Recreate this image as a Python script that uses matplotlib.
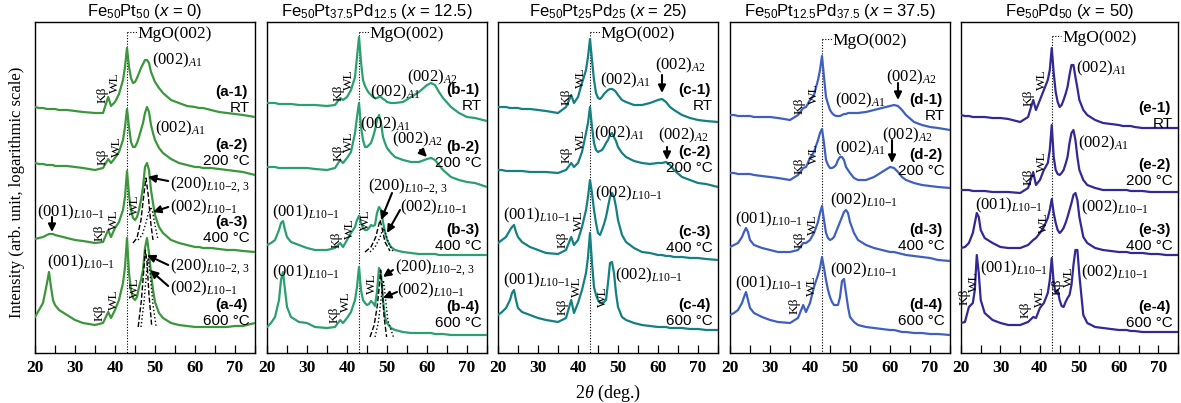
import matplotlib
matplotlib.use("Agg")
import matplotlib.pyplot as plt
from matplotlib.ticker import MultipleLocator

plt.rcParams["font.family"] = ["Liberation Serif", "DejaVu Serif"]
plt.rcParams["mathtext.fontset"] = "custom"
plt.rcParams["mathtext.rm"] = "Liberation Serif"
plt.rcParams["mathtext.it"] = "Liberation Serif:italic"
plt.rcParams["mathtext.sf"] = "Liberation Sans"
plt.rcParams["mathtext.cal"] = "Liberation Sans:italic"

# 2theta grid (deg.) shared by all scans
two_theta = [20, 21, 22, 23, 23.5, 24, 24.5, 25, 26, 28,
             30, 32, 35, 37, 38.3, 39, 40, 41, 42, 42.5,
             43, 43.5, 44, 44.5, 45, 45.5, 46, 46.5, 47, 47.5,
             48, 48.5, 49, 49.5, 50, 51, 52, 54, 56, 58,
             60, 61, 62, 63, 64, 66, 68, 70, 72, 75]

# offset log-intensity, read as vertical position (image row, top = 22, bottom = 353)
# x = 0
a1 = [107, 108, 108, 109, 109, 109, 109, 109, 110, 110,
      111, 112, 113, 113, 97, 106, 102, 94, 80, 67,
      48, 67, 78, 83, 82, 78, 73, 68, 64, 60,
      60, 63, 72, 77, 82, 88, 93, 100, 103, 106,
      107, 108, 108, 109, 110, 112, 113, 114, 115, 117]
a2 = [163, 164, 164, 165, 165, 165, 165, 166, 166, 166,
      167, 168, 170, 168, 159, 163, 158, 152, 140, 127,
      109, 127, 142, 147, 147, 143, 137, 130, 123, 113,
      107, 112, 125, 133, 140, 148, 153, 159, 163, 165,
      167, 167, 168, 168, 168, 169, 170, 171, 172, 175]
a3 = [239, 238, 237, 235, 234, 234, 234, 235, 236, 238,
      240, 241, 243, 242, 230, 237, 228, 222, 210, 197,
      171, 195, 210, 218, 220, 217, 210, 200, 187, 167,
      163, 170, 190, 203, 215, 227, 233, 240, 243, 245,
      247, 247, 248, 248, 248, 249, 250, 250, 251, 252]
a4 = [317, 310, 303, 283, 272, 287, 300, 305, 310, 315,
      320, 323, 325, 323, 312, 318, 310, 300, 283, 267,
      238, 273, 290, 298, 300, 297, 287, 280, 270, 248,
      238, 253, 273, 290, 302, 313, 318, 323, 325, 326,
      327, 327, 327, 327, 327, 327, 327, 326, 326, 323]
# x = 12.5
b1 = [103, 103, 103, 104, 104, 104, 104, 104, 104, 105,
      105, 105, 106, 105, 98, 100, 97, 90, 77, 57,
      37, 62, 80, 86, 90, 93, 95, 97, 98, 98,
      97, 97, 99, 100, 102, 103, 103, 102, 97, 92,
      85, 83, 85, 92, 98, 107, 113, 117, 118, 121]
b2 = [167, 167, 167, 168, 168, 168, 168, 168, 168, 168,
      168, 169, 170, 168, 160, 163, 158, 152, 133, 117,
      103, 127, 140, 147, 147, 145, 143, 137, 130, 120,
      115, 123, 137, 143, 148, 153, 157, 160, 162, 162,
      159, 158, 160, 165, 170, 177, 180, 182, 183, 187]
b3 = [245, 243, 240, 230, 223, 221, 230, 237, 242, 245,
      248, 250, 250, 248, 243, 247, 240, 233, 227, 220,
      216, 223, 228, 230, 230, 228, 225, 226, 225, 213,
      207, 210, 222, 232, 240, 247, 250, 252, 253, 254,
      254, 254, 254, 255, 255, 255, 255, 255, 255, 255]
b4 = [327, 323, 317, 300, 280, 272, 290, 307, 317, 322,
      323, 327, 328, 327, 320, 323, 318, 312, 300, 287,
      267, 290, 300, 303, 305, 304, 301, 303, 306, 292,
      268, 273, 300, 317, 323, 328, 330, 332, 333, 333,
      333, 333, 334, 334, 334, 335, 335, 335, 335, 335]
# x = 25
c1 = [107, 107, 107, 108, 108, 108, 108, 108, 109, 109,
      110, 111, 113, 107, 95, 103, 97, 83, 70, 57,
      39, 60, 80, 93, 98, 99, 97, 94, 92, 90,
      89, 89, 90, 92, 95, 100, 102, 105, 105, 103,
      100, 99, 102, 107, 110, 115, 118, 120, 121, 122]
c2 = [170, 170, 171, 171, 171, 171, 171, 171, 171, 172,
      172, 172, 173, 170, 163, 167, 163, 152, 133, 123,
      107, 127, 143, 150, 152, 151, 150, 147, 143, 140,
      135, 133, 137, 141, 147, 153, 157, 161, 163, 164,
      163, 163, 162, 165, 170, 177, 180, 183, 184, 187]
c3 = [243, 240, 237, 230, 227, 225, 232, 237, 242, 247,
      250, 253, 254, 250, 237, 245, 240, 227, 210, 197,
      180, 193, 210, 223, 233, 235, 230, 224, 217, 207,
      197, 193, 197, 207, 220, 235, 242, 248, 252, 253,
      255, 255, 256, 256, 257, 257, 258, 258, 259, 260]
c4 = [315, 312, 308, 300, 293, 290, 300, 308, 312, 315,
      318, 320, 322, 318, 300, 313, 303, 290, 273, 257,
      233, 263, 287, 295, 300, 303, 303, 302, 300, 283,
      263, 262, 273, 293, 307, 317, 320, 323, 325, 326,
      327, 327, 327, 328, 328, 328, 329, 329, 330, 330]
# x = 37.5
d1 = [115, 115, 116, 116, 116, 116, 116, 116, 117, 117,
      117, 118, 120, 115, 108, 107, 100, 95, 80, 70,
      56, 77, 97, 104, 110, 113, 115, 116, 116, 116,
      115, 114, 114, 113, 113, 113, 113, 112, 110, 108,
      106, 105, 106, 110, 115, 122, 125, 127, 128, 130]
d2 = [173, 173, 174, 174, 174, 174, 174, 174, 175, 176,
      177, 178, 180, 175, 168, 167, 158, 152, 140, 133,
      129, 143, 160, 165, 168, 168, 167, 165, 160, 157,
      157, 160, 167, 170, 173, 178, 180, 180, 177, 172,
      167, 168, 172, 177, 180, 183, 185, 186, 187, 188]
d3 = [247, 245, 243, 237, 232, 228, 232, 240, 245, 248,
      250, 252, 252, 250, 243, 243, 240, 233, 222, 213,
      206, 220, 233, 238, 240, 239, 237, 232, 227, 222,
      217, 212, 210, 213, 222, 233, 240, 245, 248, 250,
      252, 252, 253, 254, 255, 256, 257, 258, 260, 261]
d4 = [315, 313, 310, 303, 297, 292, 300, 308, 313, 317,
      320, 322, 323, 318, 305, 312, 303, 287, 275, 268,
      257, 268, 280, 290, 297, 302, 305, 305, 305, 297,
      281, 279, 293, 307, 317, 322, 325, 327, 328, 329,
      330, 330, 331, 332, 332, 333, 333, 334, 334, 335]
# x = 50
e1 = [115, 116, 116, 117, 117, 117, 117, 117, 117, 118,
      118, 119, 122, 117, 100, 110, 100, 90, 80, 70,
      48, 73, 92, 102, 107, 105, 100, 94, 87, 75,
      65, 65, 77, 88, 100, 110, 115, 120, 123, 124,
      125, 126, 126, 126, 127, 128, 128, 128, 128, 128]
e2 = [190, 190, 190, 191, 191, 191, 191, 191, 191, 192,
      192, 192, 193, 188, 172, 185, 180, 170, 163, 150,
      125, 157, 170, 174, 175, 173, 170, 164, 157, 143,
      133, 130, 140, 157, 170, 180, 185, 188, 190, 190,
      190, 190, 190, 191, 191, 191, 192, 192, 192, 192]
e3 = [248, 247, 243, 233, 223, 213, 217, 230, 238, 243,
      247, 248, 248, 245, 240, 238, 233, 227, 218, 210,
      199, 213, 223, 230, 233, 231, 228, 223, 217, 210,
      203, 195, 193, 200, 217, 237, 243, 248, 250, 251,
      252, 252, 252, 253, 253, 253, 254, 254, 255, 255]
e4 = [323, 322, 307, 303, 290, 255, 273, 300, 313, 320,
      323, 325, 325, 322, 317, 318, 308, 303, 293, 280,
      258, 283, 293, 290, 300, 306, 307, 302, 298, 295,
      285, 265, 250, 250, 275, 315, 323, 327, 328, 329,
      330, 330, 330, 331, 331, 332, 332, 332, 332, 332]

# fitted component peaks (dashed = (200)L10-2,3, dotted = (002)L10-1)
a3_f200_x = [44.5, 45.5, 46.5, 47.2, 47.75, 48.3, 49.0, 49.5]
a3_f200_y = [243, 238, 220, 195, 178, 195, 225, 240]
a3_f002_x = [45.75, 46.8, 47.8, 48.4, 48.9, 49.4, 50.0, 50.75]
a3_f002_y = [240, 235, 222, 212, 207, 212, 225, 240]
a4_f200_x = [45.8, 46.6, 47.2, 47.6, 48.0, 48.5, 49.2]
a4_f200_y = [327, 300, 270, 250, 262, 295, 327]
a4_f002_x = [46.5, 47.3, 47.9, 48.3, 48.8, 49.5, 50.3]
a4_f002_y = [327, 300, 272, 258, 275, 305, 327]
b3_f200_x = [44.5, 46.0, 47.2, 47.8, 48.25, 48.7, 49.5, 50.75]
b3_f200_y = [252, 247, 237, 227, 220, 227, 242, 251]
b3_f002_x = [45.75, 47.0, 48.2, 48.7, 49.1, 49.6, 50.4, 51.6]
b3_f002_y = [252, 247, 238, 232, 228, 233, 243, 252]
b4_f200_x = [45.75, 46.8, 47.6, 48.1, 48.4, 48.8, 49.3, 49.9]
b4_f200_y = [337, 325, 305, 285, 270, 290, 318, 337]
b4_f002_x = [47.0, 47.8, 48.5, 48.9, 49.1, 49.4, 50.2, 51.6]
b4_f002_y = [337, 323, 300, 285, 280, 290, 320, 337]

titles = [r"Fe$_{\mathsf{50}}$Pt$_{\mathsf{50}}$ ($\mathcal{x}$ = 0)",
          r"Fe$_{\mathsf{50}}$Pt$_{\mathsf{37.5}}$Pd$_{\mathsf{12.5}}$ ($\mathcal{x}$ = 12.5)",
          r"Fe$_{\mathsf{50}}$Pt$_{\mathsf{25}}$Pd$_{\mathsf{25}}$ ($\mathcal{x}$ = 25)",
          r"Fe$_{\mathsf{50}}$Pt$_{\mathsf{12.5}}$Pd$_{\mathsf{37.5}}$ ($\mathcal{x}$ = 37.5)",
          r"Fe$_{\mathsf{50}}$Pd$_{\mathsf{50}}$ ($\mathcal{x}$ = 50)"]
letters = ["a", "b", "c", "d", "e"]
conditions = ["RT", "200 °C", "400 °C", "600 °C"]
colors = ["#3c963c", "#2aa06e", "#148080", "#4060c0", "#322896"]
scans = [[a1, a2, a3, a4], [b1, b2, b3, b4], [c1, c2, c3, c4],
         [d1, d2, d3, d4], [e1, e2, e3, e4]]

A1 = r"(002)$_{\mathit{A1}}$"
A2 = r"(002)$_{\mathit{A2}}$"
L001 = r"(001)$_{\mathit{L10{-}1}}$"
L002 = r"(002)$_{\mathit{L10{-}1}}$"
L200 = r"(200)$_{\mathit{L10{-}2,\,3}}$"

W, H = 1181, 403
lefts = [35, 267, 498, 730, 961]
widths = [220, 220, 220, 220, 217]
mgo_rows = [32, 32, 32, 39, 36]
tag_rows = [[92, 145, 222, 305], [90, 147, 230, 307], [90, 152, 232, 305],
            [100, 155, 230, 305], [108, 165, 230, 307]]

fig = plt.figure(figsize=(W / 100, H / 100), dpi=100)
axes = []
for i in range(5):
    ax = fig.add_axes([lefts[i] / W, 50 / H, widths[i] / W, 331 / H])
    axes.append(ax)
    for s in scans[i]:
        ax.plot(two_theta, s, color=colors[i], lw=1.6, zorder=3)
    r = mgo_rows[i]
    ax.plot([43, 43], [r, 353], ls=(0, (1, 1.5)), color="k", lw=0.8, zorder=2)
    ax.plot([43, 45.4], [r, r], ls=(0, (1, 1.5)), color="k", lw=0.8, zorder=2)
    ax.text(45.7, r + 2, "MgO(002)", fontsize=12.5, va="center", ha="left")
    for k in range(4):
        ax.text(73.2, tag_rows[i][k], "(%s-%d)" % (letters[i], k + 1),
                family="Liberation Sans", weight="bold", fontsize=11,
                ha="right", va="center")
        ax.text(73.6, tag_rows[i][k] + 16, conditions[k],
                family="Liberation Sans", fontsize=11, ha="right", va="center")
    ax.set_xlim(20, 75)
    ax.set_ylim(353, 22)
    ax.set_yticks([])
    ax.xaxis.set_major_locator(MultipleLocator(10))
    ax.xaxis.set_minor_locator(MultipleLocator(5))
    ax.tick_params(axis="x", which="both", direction="in", length=6,
                   width=0.9, labelsize=12.5, pad=5, top=False)
    for t in ax.get_xticklabels():
        t.set_fontweight("bold")
    for sp in ax.spines.values():
        sp.set_linewidth(1.0)
    ax.set_title(titles[i], family="Liberation Sans", fontsize=12, pad=4)


def lab(ax, x, y, s):
    ax.text(x, y, s, fontsize=12, ha="left", va="center", zorder=5)


def small(ax, x, y, s):
    ax.text(x, y, s, fontsize=9.5, rotation=90, ha="center", va="center", zorder=5)


def arrow(ax, x0, y0, x1, y1):
    ax.annotate("", xy=(x1, y1), xytext=(x0, y0),
                arrowprops=dict(arrowstyle="-|>,head_length=0.45,head_width=0.22",
                                color="k", lw=1.5, shrinkA=0, shrinkB=0), zorder=6)


def fit(ax, x, y, ls):
    ax.plot(x, y, color="k", ls=ls, lw=1.0, zorder=4)


# x = 0
ax = axes[0]
lab(ax, 49.25, 60, A1)
lab(ax, 50, 128, A1)
lab(ax, 20.5, 212, L001)
lab(ax, 53.75, 185, L200)
lab(ax, 53.75, 207, L002)
lab(ax, 23, 262, L001)
lab(ax, 53.75, 267, L200)
lab(ax, 53.75, 288, L002)
for x, y, s in [(37, 95, "Kβ"), (40, 83, "WL"), (37, 157, "Kβ"), (40.5, 147, "WL"),
                (36.25, 233, "Kβ"), (39.75, 220, "WL"), (45, 205, "WL"),
                (36.25, 313, "Kβ"), (39.75, 300, "WL"), (45, 288, "WL")]:
    small(ax, x, y, s)
arrow(ax, 24.25, 217, 24.25, 232)
arrow(ax, 53.3, 181, 48.2, 177)
arrow(ax, 53.3, 207, 49.5, 212)
arrow(ax, 53.3, 265, 48.0, 255)
arrow(ax, 53.3, 286, 48.75, 270)
fit(ax, a3_f200_x, a3_f200_y, "--")
fit(ax, a3_f002_x, a3_f002_y, ":")
fit(ax, a4_f200_x, a4_f200_y, "--")
fit(ax, a4_f002_x, a4_f002_y, ":")

# x = 12.5
ax = axes[1]
lab(ax, 45.75, 92, A1)
lab(ax, 55, 77, A2)
lab(ax, 43.25, 124, A1)
lab(ax, 51.25, 139, A2)
lab(ax, 21.25, 212, L001)
lab(ax, 45.25, 187, L200)
lab(ax, 53.25, 207, L002)
lab(ax, 21.25, 272, L001)
lab(ax, 52, 268, L200)
lab(ax, 52.5, 290, L002)
for x, y, s in [(37.9, 93, "Kβ"), (40.6, 80, "WL"), (37.9, 153, "Kβ"), (40.6, 142, "WL"),
                (37.5, 240, "Kβ"), (40.75, 229, "WL"), (44.75, 220, "WL"),
                (37, 315, "Kβ"), (39.75, 302, "WL"), (46.25, 284, "WL")]:
    small(ax, x, y, s)
arrow(ax, 58.25, 150, 60, 157)
arrow(ax, 51.25, 193, 48.5, 220)
arrow(ax, 53.25, 210, 50, 233)
arrow(ax, 51.5, 270, 49, 277)
arrow(ax, 52.5, 292, 49, 298)
fit(ax, b3_f200_x, b3_f200_y, "--")
fit(ax, b3_f002_x, b3_f002_y, ":")
fit(ax, b4_f200_x, b4_f200_y, "--")
fit(ax, b4_f002_x, b4_f002_y, ":")

# x = 25
ax = axes[2]
lab(ax, 45.5, 80, A1)
lab(ax, 59.25, 65, A2)
lab(ax, 44, 133, A1)
lab(ax, 60, 135, A2)
lab(ax, 44.25, 193, L002)
lab(ax, 21.25, 215, L001)
lab(ax, 21.25, 280, L001)
lab(ax, 49.25, 275, L002)
for x, y, s in [(37.2, 97, "Kβ"), (40.75, 78, "WL"), (37.2, 155, "Kβ"), (40.75, 140, "WL"),
                (36.25, 240, "Kβ"), (40.25, 221, "WL"),
                (36.25, 307, "Kβ"), (39.75, 287, "WL"), (46.25, 297, "WL")]:
    small(ax, x, y, s)
arrow(ax, 61, 75, 61, 93)
arrow(ax, 62.25, 147, 62.25, 160)

# x = 37.5
ax = axes[3]
lab(ax, 46.25, 100, A1)
lab(ax, 59, 77, A2)
lab(ax, 46.25, 148, A1)
lab(ax, 58, 135, A2)
lab(ax, 45, 200, L002)
lab(ax, 21.25, 219, L001)
lab(ax, 21.25, 283, L001)
lab(ax, 45, 270, L002)
for x, y, s in [(37.5, 106, "Kβ"), (40.9, 94, "WL"), (37.5, 166, "Kβ"), (40.9, 154, "WL"),
                (37.5, 240, "Kβ"), (40.7, 225, "WL"),
                (36.25, 306, "Kβ"), (40.5, 286, "WL")]:
    small(ax, x, y, s)
arrow(ax, 62, 83, 62, 100)
arrow(ax, 60.5, 140, 60.5, 163)

# x = 50
ax = axes[4]
lab(ax, 49.25, 68, A1)
lab(ax, 49.75, 143, A1)
lab(ax, 23.6, 205, L001)
lab(ax, 50.5, 207, L002)
lab(ax, 24.75, 268, L001)
lab(ax, 50.5, 272, L002)
for x, y, s in [(37.25, 98, "Kβ"), (40.5, 80, "WL"), (37.25, 177, "Kβ"), (40.5, 162, "WL"),
                (41.0, 223, "WL"),
                (20.9, 297, "Kβ"), (23.4, 282, "WL"), (36.5, 310, "Kβ"), (40, 297, "WL"),
                (44.4, 287, "Kβ"), (47.3, 277, "WL")]:
    small(ax, x, y, s)

fig.text(17 / W, 1 - 192 / H, "Intensity (arb. unit, logarithmic scale)",
         rotation=90, ha="center", va="center", fontsize=12)
fig.text(608 / W, 1 - 393 / H, r"2$\theta$ (deg.)", ha="center", va="center", fontsize=13)

fig.savefig("out.png", dpi=100)
